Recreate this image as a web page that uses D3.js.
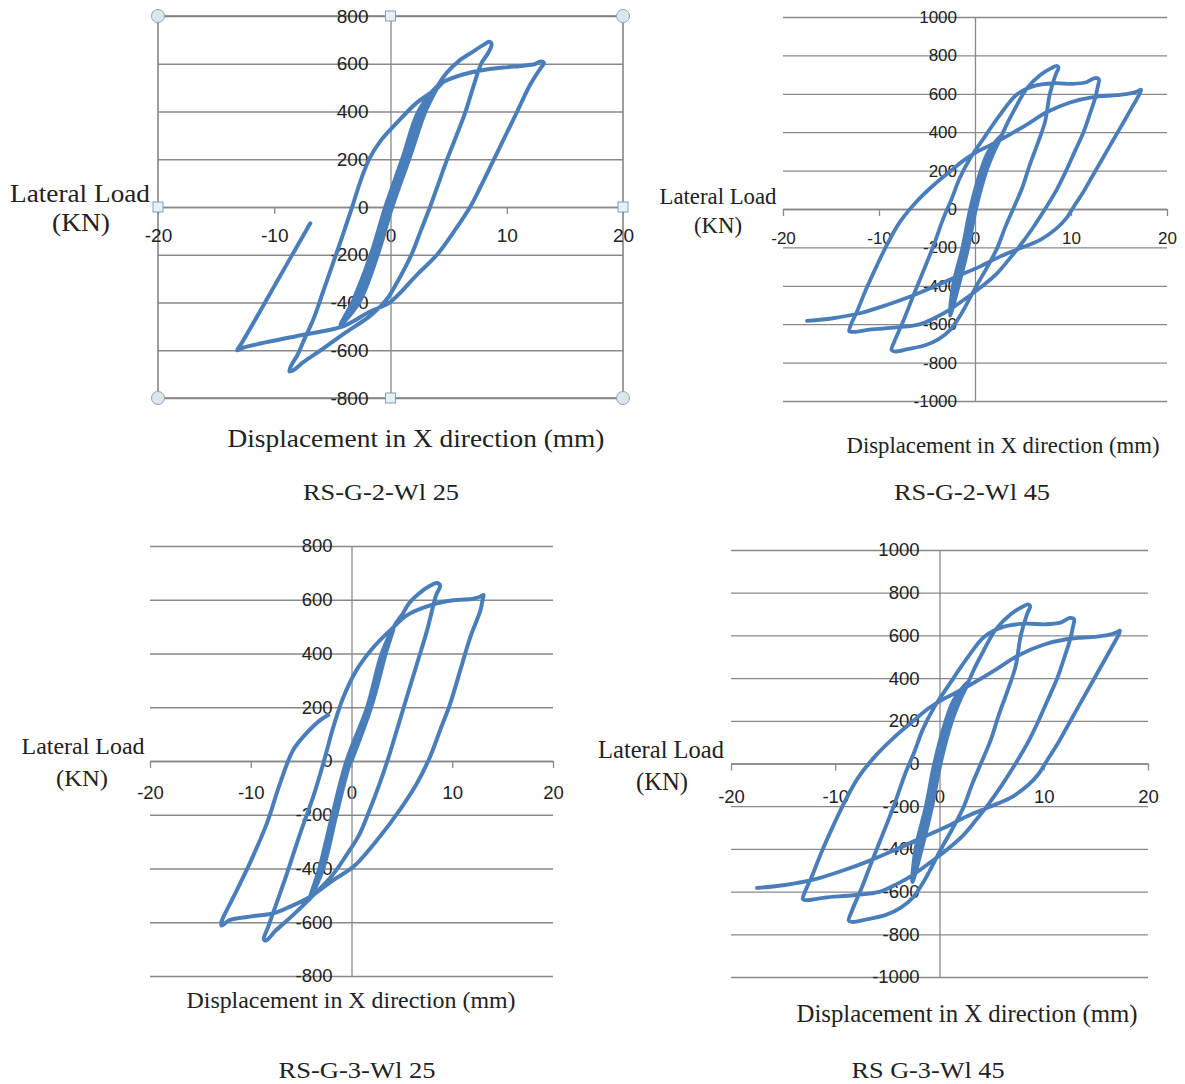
<!DOCTYPE html>
<html>
<head>
<meta charset="utf-8">
<script src="https://cdnjs.cloudflare.com/ajax/libs/d3/7.8.5/d3.min.js"></script>
<style>
body{margin:0;background:#fff;}
</style>
</head>
<body>
<script>
var WIDTH = 1185, HEIGHT = 1084;
var LINE = "#4a7ebb", GRID = "#898989", TXT = "#222";
var SANS = "'Liberation Sans', Arial, sans-serif", SERIF = "'Liberation Serif', 'Times New Roman', serif";

var xTicks = [-20, -10, 0, 10, 20];
var yTicks800 = [-800, -600, -400, -200, 0, 200, 400, 600, 800];
var yTicks1000 = [-1000, -800, -600, -400, -200, 0, 200, 400, 600, 800, 1000];

var xTitle = "Displacement in X direction (mm)";
var yTitle = ["Lateral Load", "(KN)"];
var captions = ["RS-G-2-Wl 25", "RS-G-2-Wl 45", "RS-G-3-Wl 25", "RS G-3-Wl 45"];

// displacement (mm), load (kN) in loading order
var loopG2W25 = [
	[0,0],[1.6,200],[3.0,400],[4.1,511],
	[2.4,400],[1.0,200],[-0.45,0],[-1.7,-200],[-3.3,-400],[-4.3,-494],
	[-2.7,-400],[-1.1,-200],[0.15,0],[1.6,200],[3.0,400],[4.1,511],
	[2.6,400],[1.2,200],[-0.25,0],[-1.5,-200],[-3.1,-400],[-4.3,-494],
	[-2.9,-400],[-1.3,-200],[0.0,0],[1.4,200],[2.8,400],[4.1,511],
	[2.4,400],[1.0,200],[-0.45,0],[-1.7,-200],[-3.3,-400],[-4.3,-494],
	[-2.7,-400],[-1.1,-200],[0.15,0],[1.6,200],[3.0,400],[4.1,511],
	[4.8,560],[6.0,616],[7.1,651],[8.0,679],[8.5,692],[8.7,682],
	[8.4,645],[7.8,600],[7.1,500],[6.4,392],[5.6,290],[4.8,190],[4.1,95],[3.4,0],[2.6,-100],[1.8,-200],
	[0.6,-313],[-0.3,-385],[-1.7,-454],[-4.0,-530],[-6.0,-600],[-7.5,-650],[-8.4,-685],[-8.7,-688],
	[-8.5,-660],[-8.0,-620],[-7.5,-564],[-6.6,-466],[-5.8,-355],[-4.9,-229],[-4.1,-117],[-3.3,0],
	[-2.5,120],[-1.8,204],[-0.9,274],[0.5,350],[2.2,434],[4.0,497],[4.6,525],[6.3,556],[8.0,574],
	[9.7,584],[11.4,592],[12.4,598],[12.9,609],[13.2,603],
	[12.9,581],[12.0,511],[10.9,400],[9.9,300],[8.8,190],[7.8,90],[6.85,0],[5.5,-100],[4.0,-200],
	[2.25,-285],[0,-397],[-1.8,-439],[-4.1,-500],[-7.7,-537],[-11.2,-572],[-12.7,-590],[-13.2,-600],
	[-12.8,-570],[-10,-332],[-6.9,-68]
];

var loopG2W45 = [
	[0,0],[1.2,200],[2.0,300],[2.8,385],
	[1.4,300],[0.6,200],[-0.5,0],[-1.3,-200],[-2.3,-400],[-2.6,-555],
	[-1.7,-400],[-0.7,-200],[0.1,0],[1.2,200],[2.0,300],[2.8,385],
	[1.55,300],[0.75,200],[-0.35,0],[-1.15,-200],[-2.15,-400],[-2.6,-555],
	[-1.85,-400],[-0.85,-200],[-0.05,0],[1.05,200],[1.85,300],[2.8,385],
	[1.4,300],[0.6,200],[-0.5,0],[-1.3,-200],[-2.3,-400],[-2.6,-555],
	[-1.7,-400],[-0.7,-200],[0.1,0],[1.2,200],[2.0,300],[2.8,385],
	[3.4,450],[4.0,507],[5.4,628],[6.8,698],[8.0,735],[8.5,745],[8.7,737],
	[8.4,700],[7.8,600],[7.3,455],[6.6,351],[5.7,229],[4.9,108],[4.0,3],[3.1,-101],[2.3,-205],[1.2,-309],
	[0.2,-396],[-0.7,-480],[-1.6,-560],[-2.5,-625],[-3.7,-675],[-5.2,-710],[-7.0,-730],[-8.4,-742],[-8.7,-735],
	[-8.4,-690],[-7.5,-587],[-6.4,-448],[-5.4,-326],[-4.3,-188],[-3.3,-49],[-2.4,56],[-1.6,160],[-0.5,264],
	[0.9,368],[2.6,490],[4.3,594],[6.1,640],[8.2,655],[10.2,652],[11.6,660],[12.5,682],[12.9,676],
	[12.8,640],[12.5,576],[12.0,500],[11.3,400],[10.4,300],[9.5,200],[8.5,100],[7.3,0],[6.0,-100],[4.7,-190],
	[3.5,-265],[2.3,-335],[0.8,-400],[-0.8,-460],[-2.5,-520],[-4.1,-565],[-5.7,-600],[-8.2,-617],[-11.0,-628],
	[-12.6,-640],[-13.1,-636],
	[-12.9,-600],[-12.3,-535],[-11.3,-413],[-10.2,-292],[-9.0,-170],[-7.8,-66],[-6.1,38],[-4.3,125],[-2.5,200],
	[-1.0,260],[0.3,300],[1.5,330],[3.0,370],[5.4,440],[7.5,505],[9.9,555],[12.3,583],[14.8,593],[16.2,602],
	[17.0,615],[17.3,622],
	[17.2,605],[16.5,542],[15.1,420],[13.7,299],[12.3,177],[11.3,90],[10.4,21],[9.5,-49],[8.5,-101],[6.8,-161],
	[4.7,-205],[2.6,-248],[0.5,-300],[-1.9,-352],[-4.3,-405],[-6.8,-457],[-9.2,-500],[-12.0,-543],[-14.8,-569],[-17.5,-583]
];

var loopG3W25 = [
	[0,0],[1.95,200],[3.4,400],[4.2,499],
	[3.0,400],[1.55,200],[-0.5,0],[-1.9,-200],[-3.2,-400],[-4.2,-517],
	[-2.8,-400],[-1.5,-200],[-0.1,0],[1.95,200],[3.4,400],[4.2,499],
	[3.1,400],[1.65,200],[-0.4,0],[-1.8,-200],[-3.1,-400],[-4.2,-517],
	[-2.9,-400],[-1.6,-200],[-0.2,0],[1.85,200],[3.3,400],[4.2,499],
	[3.0,400],[1.55,200],[-0.5,0],[-1.9,-200],[-3.2,-400],[-4.2,-517],
	[-2.8,-400],[-1.5,-200],[-0.1,0],[1.95,200],[3.4,400],[4.2,499],
	[5.1,549],[5.7,586],[6.7,623],[7.7,650],[8.5,662],[8.8,652],
	[8.4,617],[7.5,486],[6.5,362],[5.5,239],[4.5,115],[3.7,16],[2.8,-83],[1.8,-182],[0.8,-272],[-0.5,-350],
	[-2.0,-430],[-4.1,-511],[-6.0,-580],[-7.5,-630],[-8.5,-668],[-8.7,-662],
	[-8.3,-620],[-7.8,-567],[-6.4,-418],[-5.1,-270],[-3.8,-133],[-2.8,-9],[-1.8,127],[-0.8,238],[0.5,338],
	[2.2,424],[4.2,499],[5.5,542],[7.8,579],[10.1,598],[12.1,604],[12.8,612],[13.1,618],
	[13.0,598],[12.8,561],[11.8,462],[10.8,338],[9.8,214],[8.8,115],[7.8,16],[6.5,-83],[4.8,-182],[2.8,-282],
	[0.2,-393],[-1.8,-443],[-4.1,-505],[-6.1,-542],[-7.8,-567],[-10.1,-579],[-12.1,-592],[-12.9,-612],
	[-12.9,-598],[-11.7,-505],[-10.1,-381],[-8.4,-232],[-7.1,-84],[-5.8,40],[-4.5,102],[-3.1,152],[-2.3,171]
];

var panels = [
	{left:158, right:623, top:16, bottom:398, yMax:800, ticks:yTicks800, data:loopG2W25, frame:true,
		tickFont:19, gap:22, xOff:28, titleFont:25, lw:4,
		xT:[416,438,377], yT:[[80,193,140],[81,222,58]], cap:[381,492,156]},
	{left:783, right:1167, top:17, bottom:401, yMax:1000, ticks:yTicks1000, data:loopG2W45, frame:false,
		tickFont:17, gap:18, xOff:29, titleFont:22.5, lw:3.8,
		xT:[1003,445,313], yT:[[718,196,117],[718,225,48]], cap:[972,492,156]},
	{left:150, right:553, top:546, bottom:976, yMax:800, ticks:yTicks800, data:loopG3W25, frame:false,
		tickFont:18.5, gap:19, xOff:32, titleFont:24, lw:4,
		xT:[351,1000,329], yT:[[83,746,123],[82,778,52]], cap:[357,1070,157]},
	{left:731, right:1148, top:550, bottom:977, yMax:1000, ticks:yTicks1000, data:loopG2W45, frame:false,
		tickFont:18.5, gap:20, xOff:33, titleFont:24.5, lw:3.9,
		xT:[967,1013,341], yT:[[661,749,126],[662,781,52]], cap:[928,1070,153]}
];

var svg = d3.select("body").append("svg")
	.attr("width", WIDTH)
	.attr("height", HEIGHT);

var plain = function(d){ return String(d); };

var serifText = function(g, s, pos, size){
	g.append("text")
		.attr("x", pos[0]).attr("y", pos[1]).attr("dy", "0.35em")
		.attr("text-anchor", "middle")
		.attr("font-family", SERIF).attr("font-size", size)
		.attr("fill", TXT)
		.attr("textLength", pos[2]).attr("lengthAdjust", "spacingAndGlyphs")
		.text(s);
};

var drawPanel = function(p, i){
	var x = d3.scaleLinear().domain([-20, 20]).range([p.left, p.right]);
	var y = d3.scaleLinear().domain([-p.yMax, p.yMax]).range([p.bottom, p.top]);
	var g = svg.append("g");

	// horizontal gridlines
	g.append("g")
		.attr("transform", "translate(" + p.left + ",0)")
		.call(d3.axisLeft(y).tickValues(p.ticks).tickSize(-(p.right - p.left)).tickFormat(""))
		.call(function(a){ a.select(".domain").remove(); })
		.selectAll("line").attr("stroke", GRID).attr("stroke-width", 1.3);

	if (p.frame) {
		g.append("rect")
			.attr("x", p.left).attr("y", p.top)
			.attr("width", p.right - p.left).attr("height", p.bottom - p.top)
			.attr("fill", "none").attr("stroke", "#858585").attr("stroke-width", 1.6);
	}

	var xAxis = g.append("g")
		.attr("transform", "translate(0," + y(0) + ")")
		.call(d3.axisBottom(x).tickValues(xTicks).tickFormat(plain).tickSize(7).tickSizeOuter(0));
	xAxis.select(".domain").attr("stroke", GRID).attr("stroke-width", 1.3);
	xAxis.selectAll("line").attr("stroke", GRID).attr("stroke-width", 1.3);
	xAxis.selectAll("text")
		.attr("y", p.xOff).attr("dy", "0.35em")
		.attr("font-family", SANS).attr("font-size", p.tickFont).attr("fill", TXT);

	var yAxis = g.append("g")
		.attr("transform", "translate(" + x(0) + ",0)")
		.call(d3.axisLeft(y).tickValues(p.ticks).tickFormat(plain).tickSize(0).tickSizeOuter(0).tickPadding(p.gap));
	yAxis.select(".domain").attr("stroke", GRID).attr("stroke-width", 1.3);
	yAxis.selectAll("text")
		.attr("font-family", SANS).attr("font-size", p.tickFont).attr("fill", TXT);

	if (p.frame) {
		var cx = [p.left, p.right], cy = [p.top, p.bottom];
		cx.forEach(function(a){ cy.forEach(function(b){
			g.append("circle").attr("cx", a).attr("cy", b).attr("r", 6.5)
				.attr("fill", "#dfe6eb").attr("stroke", "#8fa3b1").attr("stroke-width", 1);
		}); });
		[[x(0), p.top], [x(0), p.bottom], [p.left, y(0)], [p.right, y(0)]].forEach(function(s){
			g.append("rect").attr("x", s[0] - 5).attr("y", s[1] - 5).attr("width", 10).attr("height", 10)
				.attr("fill", "#e6f0f7").attr("stroke", "#7ea2bd").attr("stroke-width", 1);
		});
	}

	var line = d3.line()
		.x(function(d){ return x(d[0]); })
		.y(function(d){ return y(d[1]); })
		.curve(d3.curveCatmullRom.alpha(0.5));

	g.append("path")
		.attr("d", line(p.data))
		.attr("fill", "none")
		.attr("stroke", LINE)
		.attr("stroke-width", p.lw)
		.attr("stroke-linejoin", "round")
		.attr("stroke-linecap", "round");

	serifText(g, xTitle, p.xT, p.titleFont);
	serifText(g, yTitle[0], p.yT[0], p.titleFont);
	serifText(g, yTitle[1], p.yT[1], p.titleFont);
	serifText(g, captions[i], p.cap, 24);
};

panels.forEach(drawPanel);
</script>
</body>
</html>
